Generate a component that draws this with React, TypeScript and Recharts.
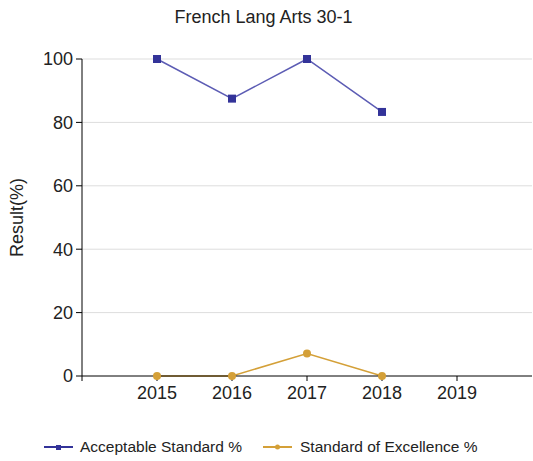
import { LineChart, Line, XAxis, YAxis, CartesianGrid } from 'recharts'

const years = [2015, 2016, 2017, 2018]
const acceptable = [100, 87.5, 100, 83.3]
const excellence = [0, 0, 7.1, 0]
const xTicks = [2014, 2015, 2016, 2017, 2018, 2019]
const yTicks = [0, 20, 40, 60, 80, 100]

const data = years.map((year, i) => ({ year, acceptable: acceptable[i], excellence: excellence[i] }))

const BLUE = '#333399'
const BLUE_LINE = '#5c5cb4'
const GOLD = '#d4a038'
const FONT = 'Arial, "Liberation Sans", sans-serif'

const SquareDot = (props: any) => {
    const { cx, cy } = props
    if (cx == null || cy == null) return null
    return <rect x={cx - 4} y={cy - 4} width={8} height={8} fill={BLUE} />
}

const LegendBox = () => (
    <div style={{ position: 'absolute', left: 0, top: 438, display: 'flex', fontFamily: FONT, fontSize: 15.5, color: '#222' }}>
        <div style={{ display: 'flex', alignItems: 'center', marginLeft: 44 }}>
            <svg width={29} height={10}>
                <line x1={0} y1={5} x2={29} y2={5} stroke={BLUE} strokeWidth={2} />
                <rect x={12} y={3} width={5} height={5} fill={BLUE} />
            </svg>
            <span style={{ marginLeft: 7 }}>Acceptable Standard %</span>
        </div>
        <div style={{ display: 'flex', alignItems: 'center', marginLeft: 21 }}>
            <svg width={29} height={10}>
                <line x1={0} y1={5} x2={29} y2={5} stroke={GOLD} strokeWidth={2} />
                <circle cx={14.5} cy={5} r={2.5} fill={GOLD} />
            </svg>
            <span style={{ marginLeft: 8 }}>Standard of Excellence %</span>
        </div>
    </div>
)

const App = () => {
    return (
        <div style={{ position: 'absolute', left: 0, top: 0, width: 533, height: 461, background: '#fff' }}>
            <div style={{ position: 'absolute', left: 0, top: 7, width: 527, textAlign: 'center', fontFamily: FONT, fontSize: 18, color: '#222' }}>
                French Lang Arts 30-1
            </div>
            <LineChart width={533} height={461} data={data} margin={{ top: 59, right: 1, left: 0, bottom: 55 }}>
                <CartesianGrid stroke="#dddddd" vertical={false} horizontalValues={[20, 40, 60, 80, 100]} />
                <XAxis
                    dataKey="year"
                    type="number"
                    domain={[2014, 2020]}
                    ticks={xTicks}
                    interval={0}
                    height={30}
                    stroke="#000"
                    tickSize={5}
                    tickFormatter={(v) => (v === 2014 ? '' : String(v))}
                    tick={{ fill: '#222', fontSize: 18, fontFamily: FONT }}
                    tickMargin={5}
                />
                <YAxis
                    domain={[0, 100]}
                    ticks={yTicks}
                    width={82}
                    stroke="#000"
                    tickSize={6}
                    tickMargin={3}
                    tick={{ fill: '#222', fontSize: 18, fontFamily: FONT }}
                    label={{ value: 'Result(%)', angle: -90, position: 'insideLeft', offset: 17, style: { fill: '#222', fontSize: 18, fontFamily: FONT, textAnchor: 'middle' } }}
                />
                <Line
                    dataKey="excellence"
                    stroke={GOLD}
                    strokeWidth={1.5}
                    dot={{ r: 4, fill: GOLD, stroke: 'none' }}
                    isAnimationActive={false}
                />
                <Line
                    dataKey="acceptable"
                    stroke={BLUE_LINE}
                    strokeWidth={1.5}
                    dot={<SquareDot />}
                    isAnimationActive={false}
                />
            </LineChart>
            <LegendBox />
        </div>
    )
}

export default App
